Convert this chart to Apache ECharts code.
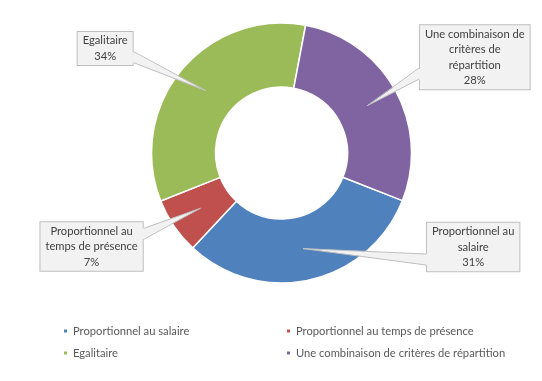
<!DOCTYPE html>
<html><head><meta charset="utf-8">
<script src="https://cdn.jsdelivr.net/npm/echarts@6/dist/echarts.min.js"></script>
<style>html,body{margin:0;padding:0;background:#fff}#c{width:542px;height:381px}</style>
</head><body><div id="c"></div>
<script>
const categories = ['Proportionnel au salaire', 'Proportionnel au temps de présence', 'Egalitaire', 'Une combinaison de critères de répartition'];
const values = [31, 7, 34, 28];
const labelTexts = ['Proportionnel au\nsalaire', 'Proportionnel au\ntemps de présence', 'Egalitaire', 'Une combinaison de\ncritères de\nrépartition'];
const colors = ['#4f81bd', '#c0504d', '#9bbb59', '#8064a2'];
// label box centres as fractions of chart width / height
const labelPos = [[0.873, 0.648], [0.169, 0.647], [0.194, 0.127], [0.876, 0.15]];

const W = 542, H = 381;
const CX = 281.5, CY = 153, R0 = 66, R1 = 130;
const FONT = 'Lato';
const boxes = [];

const chart = echarts.init(document.getElementById('c'), null, {renderer: 'canvas'});
chart.setOption({
  animation: false,
  color: colors,
  legend: {
    left: 57, top: 320, width: 520,
    itemWidth: 5, itemHeight: 5, itemGap: 10, itemTextGap: 4, icon: 'rect',
    selectedMode: false,
    textStyle: {fontFamily: FONT, fontSize: 11.2, color: '#595959', width: 202, overflow: 'none', lineHeight: 12},
    data: categories
  },
  series: [{
    type: 'pie',
    center: [CX, CY],
    radius: [R0, R1],
    startAngle: -21.5,
    clockwise: true,
    avoidLabelOverlap: false,
    silent: true,
    itemStyle: {borderColor: '#fff', borderWidth: 1.5},
    label: {
      show: true, position: 'outside',
      formatter: p => labelTexts[p.dataIndex] + '\n' + p.value + '%',
      fontFamily: FONT, fontSize: 11.2, color: '#404040', lineHeight: 15.5,
      align: 'center',
      backgroundColor: '#f2f2f2', borderColor: '#bfbfbf', borderWidth: 1,
      padding: [1, 5]
    },
    labelLine: {show: true, length: 10, length2: 10, lineStyle: {color: '#bfbfbf', width: 1, opacity: 0}},
    labelLayout: function (p) {
      const i = p.dataIndex;
      const w = p.labelRect.width, h = p.labelRect.height;
      const bx = labelPos[i][0] * W, by = labelPos[i][1] * H;
      const p0 = p.labelLinePoints[0];
      const k = ((R0 + R1) / 2) / R1;
      const tip = [CX + (p0[0] - CX) * k, CY + (p0[1] - CY) * k];
      boxes[i] = {left: bx - w / 2, top: by - h / 2, w: w, h: h, tip: tip};
      return {x: bx, y: by, align: 'center', verticalAlign: 'middle'};
    },
    data: categories.map((c, i) => ({name: c, value: values[i]}))
  }]
});

// callout wedges from each label box to its slice
function wedge(b) {
  const tip = b.tip;
  const onRight = tip[0] > b.left + b.w / 2;
  const ex = onRight ? b.left + b.w : b.left;
  const inset = onRight ? -1.5 : 1.5;
  const below = tip[1] > b.top + b.h / 2;
  const cy = b.top + b.h * (below ? 0.75 : 0.25);
  const hw = 5.5;
  const p1 = [ex, cy - hw], p2 = [ex, cy + hw];
  return [
    {type: 'polygon', z: 100, silent: true,
     shape: {points: [[ex + inset, cy - hw], tip, [ex + inset, cy + hw]]},
     style: {fill: '#f2f2f2', stroke: null}},
    {type: 'polyline', z: 101, silent: true,
     shape: {points: [p1, tip, p2]},
     style: {stroke: '#bfbfbf', lineWidth: 1, fill: null}}
  ];
}
const els = [];
boxes.forEach(b => { if (b) els.push(...wedge(b)); });
chart.setOption({graphic: {elements: els}});
</script></body></html>
